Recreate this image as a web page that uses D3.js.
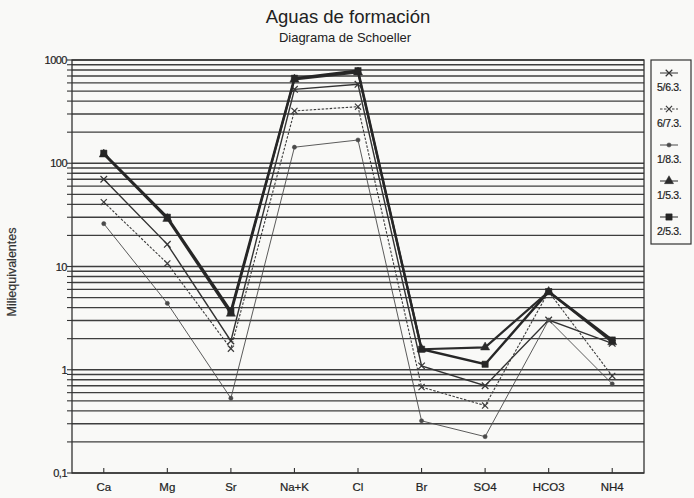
<!DOCTYPE html>
<html>
<head>
<meta charset="utf-8">
<script src="https://cdn.jsdelivr.net/npm/d3@7"></script>
<style>
  body { margin: 0; background: #f9f9f7; }
  svg { display: block; font-family: "Liberation Sans", Arial, sans-serif; }
</style>
</head>
<body>
<svg id="chart" width="694" height="498"></svg>
<script>
// categories on the x axis
const categories = ["Ca", "Mg", "Sr", "Na+K", "Cl", "Br", "SO4", "HCO3", "NH4"];

// meq values
const s_5_6_3 = [70, 16.4, 1.9, 520, 582, 1.09, 0.70, 3.03, 1.8];
const s_6_7_3 = [42, 10.7, 1.6, 321, 353, 0.68, 0.45, 5.7, 0.87];
const s_1_8_3 = [26, 4.4, 0.53, 143, 168, 0.32, 0.225, 3.03, 0.73];
const s_1_5_3 = [122, 29, 3.5, 650, 760, 1.58, 1.65, 5.7, 1.85];
const s_2_5_3 = [125, 30, 3.7, 665, 788, 1.58, 1.13, 5.7, 1.94];

const seriesNames = ["5/6.3.", "6/7.3.", "1/8.3.", "1/5.3.", "2/5.3."];
const yTickLabels = ["0,1", "1", "10", "100", "1000"];
const yTickValues = [0.1, 1, 10, 100, 1000];

const series = [
  {name: seriesNames[0], values: s_5_6_3, width: 1.4, dash: null, sym: d3.symbolTimes, size: 30, color: "#333"},
  {name: seriesNames[1], values: s_6_7_3, width: 1.1, dash: "2.5,1.5", sym: d3.symbolTimes, size: 26, color: "#3c3c3c"},
  {name: seriesNames[2], values: s_1_8_3, width: 0.9, dash: null, sym: d3.symbolCircle, size: 14, color: "#4a4a4a"},
  {name: seriesNames[3], values: s_1_5_3, width: 2.2, dash: null, sym: d3.symbolTriangle, size: 36, color: "#2b2b2b"},
  {name: seriesNames[4], values: s_2_5_3, width: 2.4, dash: null, sym: d3.symbolSquare, size: 40, color: "#262626"}
];

const plotLeft = 72, plotRight = 644, plotTop = 60, plotBottom = 473;
const svg = d3.select("#chart");

const x = d3.scalePoint().domain(categories).range([plotLeft, plotRight]).padding(0.5);
const y = d3.scaleLog().domain([0.1, 1000]).range([plotBottom, plotTop]);

// titles
svg.append("text").attr("x", 348).attr("y", 23).attr("text-anchor", "middle")
  .attr("font-size", 18.5).attr("fill", "#222").text("Aguas de formación");
svg.append("text").attr("x", 345).attr("y", 42).attr("text-anchor", "middle")
  .attr("font-size", 13).attr("fill", "#222").text("Diagrama de Schoeller");
svg.append("text").attr("transform", "translate(16,272) rotate(-90)")
  .attr("text-anchor", "middle").attr("font-size", 12.5).attr("fill", "#333")
  .attr("stroke", "#333").attr("stroke-width", 0.2)
  .text("Miliequivalentes");

// log grid: every minor value in each decade
let gridVals = [];
[0.1, 1, 10, 100].forEach(d => { for (let k = 1; k <= 9; k++) gridVals.push(k * d); });
gridVals.push(1000);

svg.append("g").selectAll("line").data(gridVals).enter().append("line")
  .attr("x1", plotLeft).attr("x2", plotRight)
  .attr("y1", d => y(d)).attr("y2", d => y(d))
  .attr("stroke", "#3e3e3e").attr("stroke-width", 1.4);

// y ticks on left of axis
svg.append("g").selectAll("line").data(gridVals).enter().append("line")
  .attr("x1", plotLeft - 5).attr("x2", plotLeft)
  .attr("y1", d => y(d)).attr("y2", d => y(d))
  .attr("stroke", "#333").attr("stroke-width", 1.1);

svg.append("g").selectAll("text").data(yTickValues).enter().append("text")
  .attr("x", plotLeft - 5).attr("y", d => y(d) + 4)
  .attr("text-anchor", "end").attr("font-size", 11).attr("fill", "#222")
  .attr("stroke", "#222").attr("stroke-width", 0.2)
  .attr("letter-spacing", -0.5)
  .text((d, i) => yTickLabels[i]);

// frame
svg.append("rect").attr("x", plotLeft).attr("y", plotTop)
  .attr("width", plotRight - plotLeft).attr("height", plotBottom - plotTop)
  .attr("fill", "none").attr("stroke", "#333").attr("stroke-width", 1.3);

// x ticks and labels
svg.append("g").selectAll("line").data(categories).enter().append("line")
  .attr("x1", d => x(d)).attr("x2", d => x(d))
  .attr("y1", plotBottom).attr("y2", plotBottom - 5)
  .attr("stroke", "#333").attr("stroke-width", 1.1);
svg.append("g").selectAll("text").data(categories).enter().append("text")
  .attr("x", d => x(d)).attr("y", plotBottom + 18)
  .attr("text-anchor", "middle").attr("font-size", 11.5).attr("fill", "#222")
  .attr("stroke", "#222").attr("stroke-width", 0.2)
  .text(d => d);

// series lines and markers
const line = d3.line().x((d, i) => x(categories[i])).y(d => y(d));

series.forEach(s => {
  svg.append("path").datum(s.values)
    .attr("d", line).attr("fill", "none")
    .attr("stroke", s.color).attr("stroke-width", s.width)
    .attr("stroke-dasharray", s.dash);
  svg.append("g").selectAll("path").data(s.values).enter().append("path")
    .attr("transform", (d, i) => "translate(" + x(categories[i]) + "," + y(d) + ")")
    .attr("d", d3.symbol().type(s.sym).size(s.size))
    .attr("fill", s.color).attr("stroke", s.color)
    .attr("stroke-width", s.sym === d3.symbolTimes ? 1.2 : 0.5);
});

// legend
const lg = svg.append("g");
lg.append("rect").attr("x", 651).attr("y", 60).attr("width", 40).attr("height", 184)
  .attr("fill", "none").attr("stroke", "#333").attr("stroke-width", 1.2);

series.forEach((s, i) => {
  const cy = 73 + i * 36;
  lg.append("line").attr("x1", 660).attr("x2", 678).attr("y1", cy).attr("y2", cy)
    .attr("stroke", s.color).attr("stroke-width", 1)
    .attr("stroke-dasharray", s.dash);
  lg.append("path").attr("transform", "translate(669," + cy + ")")
    .attr("d", d3.symbol().type(s.sym).size(s.size))
    .attr("fill", s.color).attr("stroke", s.color)
    .attr("stroke-width", s.sym === d3.symbolTimes ? 1.2 : 0.5);
  lg.append("text").attr("x", 657).attr("y", cy + 18)
    .attr("font-size", 10.5).attr("fill", "#222").attr("letter-spacing", -0.3)
    .attr("stroke", "#222").attr("stroke-width", 0.2)
    .text(s.name);
});
</script>
</body>
</html>
